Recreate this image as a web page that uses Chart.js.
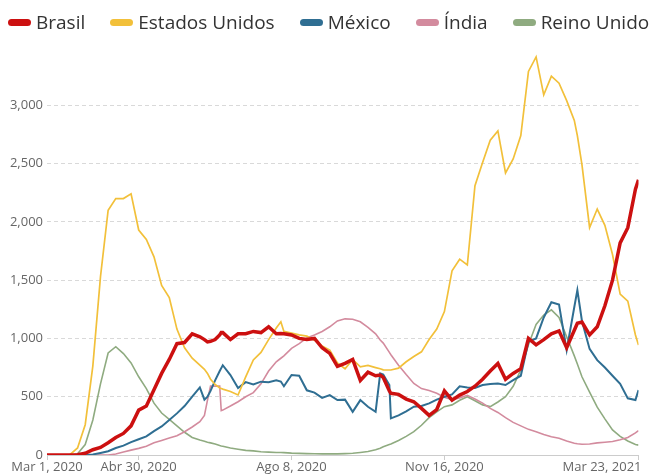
<!DOCTYPE html>
<html>
<head>
<meta charset="utf-8">
<script src="https://cdn.jsdelivr.net/npm/chart.js@4.4.1/dist/chart.umd.min.js"></script>
<style>
  html, body { margin: 0; padding: 0; background: #fff; }
  #wrap { position: relative; width: 649px; height: 475px; overflow: hidden; }
  #legend {
    position: absolute; top: 9px; left: 8px;
    display: flex; gap: 25px; white-space: nowrap;
    font: 19px 'Open Sans', sans-serif; color: #333; line-height: 26px;
  }
  #legend .item { display: flex; align-items: center; }
  #legend .swatch { width: 23px; height: 7px; border-radius: 3.5px; margin-right: 5px; }
</style>
</head>
<body>
<div id="wrap">
  <canvas id="chart" width="649" height="475"></canvas>
  <div id="legend"></div>
</div>
<script>
// days since Mar 1, 2020
const days = [0,5,10,15,20,25,30,35,40,45,50,55,60,65,70,75,80,85,90,95,100,
  103,105,107,110,113,114,115,
  120,125,130,135,140,145,150,
  153,
  155,160,165,170,175,180,185,190,195,200,205,210,215,
  218,220,224,
  225,230,235,240,245,250,255,260,265,270,275,280,285,290,295,300,305,310,315,320,325,330,335,340,345,
  347,
  350,355,360,365,370,375,380,385,
  387];

const brasil = [0,0,0,0,3,15,45,65,105,150,185,250,385,420,560,700,820,955,965,1040,1014,
  990,970,975,990,1030,1050,1050,
  990,1040,1040,1060,1050,1100,1040,
  1043,
  1040,1030,1000,990,1000,920,871,760,786,820,640,710,680,
  686,665,550,
  529,520,480,457,400,340,390,550,470,514,545,590,650,720,785,650,700,740,1000,945,990,1040,1065,920,1070,
  1130,
  1140,1030,1100,1280,1500,1820,1950,2280,
  2360];

const estadosUnidos = [0,0,0,3,60,260,765,1530,2100,2200,2200,2240,1930,1850,1700,1455,1350,1080,920,830,770,
  735,700,650,605,575,570,565,
  545,515,670,815,880,990,1090,
  1143,
  1060,1045,1030,1020,985,935,900,790,740,820,757,768,750,
  740,730,729,
  729,745,800,845,885,990,1080,1230,1580,1680,1630,2310,2510,2700,2780,2420,2540,2740,3290,3415,3090,3250,3190,3040,2870,
  2740,
  2490,1950,2110,1970,1720,1380,1320,1030,
  943];

const mexico = [0,0,0,0,0,0,5,18,32,60,80,110,135,160,205,245,300,357,420,500,580,
  475,500,550,640,720,745,770,
  686,575,625,605,629,625,640,
  630,
  590,686,680,555,535,490,514,471,475,370,471,414,371,
  700,690,600,
  314,340,375,414,420,443,475,500,520,590,580,575,600,610,614,600,643,680,971,1000,1180,1310,1290,900,1270,
  1414,
  1150,910,814,750,680,610,486,471,
  557];

const india = [0,0,0,0,0,0,0,0,0,8,26,42,57,75,105,125,145,165,200,240,285,
  340,470,591,591,591,380,385,
  420,457,500,535,610,720,800,
  830,
  850,915,955,1005,1030,1060,1100,1150,1168,1165,1143,1095,1040,
  986,960,880,
  860,770,690,614,570,553,530,495,475,490,512,480,445,400,365,320,280,250,220,200,175,157,143,120,100,
  96,
  92,95,104,110,116,130,150,190,
  210];

const reinoUnido = [0,0,0,0,10,90,300,610,875,929,870,790,671,570,445,360,305,250,195,150,128,
  118,110,104,95,82,78,75,
  60,50,40,35,28,25,22,
  21,
  20,16,14,12,11,10,10,10,12,15,22,30,45,
  58,70,90,
  95,125,160,200,255,320,370,415,430,470,500,465,430,415,455,500,590,730,945,1120,1200,1245,1180,1014,850,
  780,
  671,540,410,310,215,160,120,90,
  85];

const tickDays = [0, 60, 160, 260, 387];
const tickLabels = ['Mar 1, 2020', 'Abr 30, 2020', 'Ago 8, 2020', 'Nov 16, 2020', 'Mar 23, 2021'];
const yTicks = [0, 500, 1000, 1500, 2000, 2500, 3000];

function series(label, values, color, width) {
  return {
    label: label,
    data: days.map((d, i) => ({ x: d, y: values[i] })),
    borderColor: color,
    backgroundColor: color,
    borderWidth: width,
    pointRadius: 0,
    tension: 0,
    fill: false
  };
}

// x labels: last one sits right-aligned at the edge
const xLabels = {
  id: 'xLabels',
  afterDraw(chart) {
    const { ctx } = chart;
    const x = chart.scales.x;
    ctx.save();
    ctx.font = "13px 'Open Sans'";
    ctx.fillStyle = '#666';
    ctx.textBaseline = 'middle';
    tickDays.forEach((d, i) => {
      const px = x.getPixelForValue(d);
      const last = i === tickDays.length - 1;
      ctx.textAlign = last ? 'right' : 'center';
      ctx.fillText(tickLabels[i], last ? px + 3 : px, x.bottom + 7);
    });
    ctx.restore();
  }
};

document.addEventListener('DOMContentLoaded', () => {
  const ctx = document.getElementById('chart').getContext('2d');

  const chart = new Chart(ctx, {
    type: 'line',
    data: {
      datasets: [
        series('Brasil', brasil, '#cc1010', 3.5),
        series('Estados Unidos', estadosUnidos, '#f2c03a', 1.7),
        series('México', mexico, '#2f6e92', 2),
        series('Índia', india, '#d38b9e', 1.6),
        series('Reino Unido', reinoUnido, '#8fab80', 1.6)
      ]
    },
    options: {
      responsive: false,
      animation: false,
      layout: { padding: { top: 47, right: 10.5, bottom: 15, left: 0 } },
      plugins: {
        legend: { display: false },
        tooltip: { enabled: false }
      },
      scales: {
        x: {
          type: 'linear',
          min: 0,
          max: 387,
          afterBuildTicks: s => { s.ticks = tickDays.map(v => ({ value: v })); },
          ticks: { display: false },
          grid: { drawOnChartArea: false, drawTicks: true, tickLength: 5, color: '#cccccc' },
          border: { display: true, color: '#cccccc' }
        },
        y: {
          min: 0,
          max: 3500,
          afterBuildTicks: s => { s.ticks = yTicks.map(v => ({ value: v })); },
          afterFit: s => { s.width = 47; },
          ticks: {
            padding: 4,
            color: '#666',
            font: { family: 'Open Sans', size: 13 },
            callback: v => v.toLocaleString('en-US')
          },
          grid: { color: '#d9d9d9', drawTicks: false },
          border: { display: false, dash: [4, 3] }
        }
      }
    },
    plugins: [xLabels]
  });

  const legend = document.getElementById('legend');
  chart.data.datasets.forEach(ds => {
    const item = document.createElement('div');
    item.className = 'item';
    const sw = document.createElement('span');
    sw.className = 'swatch';
    sw.style.background = ds.borderColor;
    const txt = document.createElement('span');
    txt.textContent = ds.label;
    item.appendChild(sw);
    item.appendChild(txt);
    legend.appendChild(item);
  });
});
</script>
</body>
</html>
